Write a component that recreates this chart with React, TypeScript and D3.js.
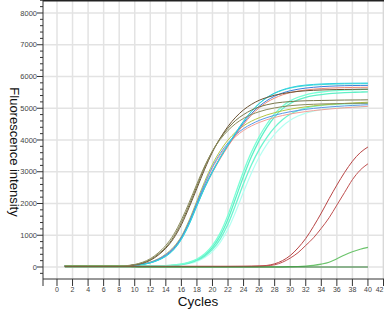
import React from "react";
import * as d3 from "d3";

const cycles = [1,2,3,4,5,6,7,8,9,10,11,12,13,14,15,16,17,18,19,20,21,22,23,24,25,26,27,28,29,30,31,32,33,34,35,36,37,38,39,40];

const yTickValues = [0,1000,2000,3000,4000,5000,6000,7000,8000];
const xTickValues = [0,2,4,6,8,10,12,14,16,18,20,22,24,26,28,30,32,34,36,38,40,42];

const olive1 = [30,30,30,30,32,33,35,37,40,70,130,230,400,620,950,1400,1950,2550,3150,3650,4050,4370,4620,4800,4940,5040,5110,5160,5190,5210,5225,5235,5240,5245,5250,5255,5258,5260,5262,5265];
const olive2 = [30,30,30,30,31,33,35,38,45,80,150,260,440,680,1020,1480,2030,2620,3180,3650,4020,4300,4520,4680,4800,4890,4960,5010,5050,5080,5100,5115,5125,5135,5140,5145,5150,5153,5156,5160];
const brown = [30,30,30,30,31,32,34,36,40,65,115,210,370,590,900,1330,1880,2480,3080,3620,4060,4430,4720,4950,5120,5250,5340,5410,5460,5500,5530,5550,5565,5575,5582,5588,5592,5595,5598,5600];

const cyan = [30,30,30,30,31,32,34,36,40,52,80,128,210,335,540,870,1340,1920,2490,2990,3440,3850,4230,4590,4900,5150,5340,5480,5580,5650,5700,5730,5750,5765,5775,5782,5786,5789,5791,5793];
const turquoise = [30,30,30,30,31,32,34,36,41,54,82,132,215,345,550,880,1360,1940,2510,3000,3450,3855,4235,4590,4895,5140,5330,5470,5565,5635,5680,5710,5730,5745,5755,5762,5767,5770,5773,5775];
const blue = [30,30,30,30,31,32,34,36,42,56,88,140,228,360,575,920,1400,1980,2540,3020,3450,3840,4200,4540,4830,5060,5240,5380,5480,5550,5600,5635,5660,5680,5693,5703,5710,5715,5718,5720];
const salmon = [30,30,30,30,31,32,34,36,42,55,86,137,224,355,565,905,1380,1950,2500,2980,3410,3800,4160,4490,4780,5010,5190,5320,5420,5490,5540,5575,5600,5620,5633,5643,5650,5655,5658,5660];

const yellowGreen = [30,30,30,30,31,32,34,36,43,59,94,153,255,408,630,965,1475,2085,2695,3235,3660,4000,4255,4450,4590,4700,4790,4860,4920,4970,5010,5045,5075,5100,5120,5137,5152,5165,5178,5190];
const salmonLow = [30,30,30,30,31,32,34,36,42,57,90,147,245,392,608,930,1420,2010,2600,3120,3530,3860,4110,4300,4440,4550,4640,4710,4770,4820,4860,4895,4925,4950,4975,4995,5015,5030,5045,5060];
const blueLow = [30,30,30,30,31,32,34,36,41,56,89,146,243,390,605,935,1430,2030,2630,3160,3580,3910,4165,4360,4500,4615,4705,4780,4840,4890,4930,4965,4995,5020,5040,5058,5073,5087,5099,5110];

const aqua1 = [30,30,30,30,30,31,31,32,33,34,35,36,38,44,58,86,138,228,380,620,980,1510,2180,2860,3470,3980,4400,4730,4980,5150,5266,5344,5396,5432,5458,5476,5490,5501,5510,5516];
const aqua2 = [30,30,30,30,30,31,31,32,33,34,35,37,40,46,62,94,151,251,418,682,1076,1642,2334,3016,3612,4102,4504,4828,5066,5232,5346,5424,5476,5512,5538,5556,5570,5581,5590,5596];
const aqua3 = [30,30,30,30,30,31,31,32,33,34,35,36,37,42,54,78,124,204,342,558,880,1352,1972,2628,3212,3698,4086,4398,4640,4812,4926,5004,5056,5090,5112,5127,5139,5147,5153,5158];
const aquaPale = [30,30,30,30,30,30,31,31,32,33,34,35,36,40,50,70,109,178,297,486,774,1194,1748,2368,2956,3456,3860,4182,4434,4620,4754,4848,4910,4954,4985,5007,5022,5034,5042,5048];

const greenLate = [45,45,45,45,45,45,45,44,30,12,5,4,4,4,4,4,4,4,4,4,4,4,4,4,4,4,4,5,7,10,16,30,52,90,150,260,380,480,560,620];
const red1 = [20,20,20,20,20,20,20,20,20,20,20,20,20,20,20,20,20,20,20,20,20,20,21,22,25,32,50,100,200,360,600,900,1280,1700,2150,2580,2980,3330,3600,3780];
const red2 = [20,20,20,20,20,20,20,20,20,20,20,20,20,20,20,20,20,20,20,20,20,20,21,22,24,28,38,70,150,280,450,680,920,1220,1550,1950,2350,2750,3050,3250];
const flatGreen = [0,0,0,0,0,0,0,0,0,0,0,0,0,0,0,0,0,0,0,0,0,0,0,0,0,0,0,0,0,0,0,0,0,0,0,0,0,0,0,0];

const series = [
  { name: "aquaPale", values: aquaPale, color: "#b4fff2", width: 1.2 },
  { name: "aqua3", values: aqua3, color: "#6cf5cf", width: 1.3 },
  { name: "aqua1", values: aqua1, color: "#5ff0c6", width: 1.3 },
  { name: "aqua2", values: aqua2, color: "#7affd6", width: 1.3 },
  { name: "yellowGreen", values: yellowGreen, color: "#b5c545", width: 1 },
  { name: "salmonLow", values: salmonLow, color: "#f4a098", width: 1 },
  { name: "blueLow", values: blueLow, color: "#5a9ae8", width: 1 },
  { name: "salmon", values: salmon, color: "#f08878", width: 1 },
  { name: "blue", values: blue, color: "#3c7fdc", width: 1 },
  { name: "turquoise", values: turquoise, color: "#40e0d0", width: 1 },
  { name: "cyan", values: cyan, color: "#2fcfe2", width: 1 },
  { name: "brown", values: brown, color: "#6a5232", width: 1 },
  { name: "olive1", values: olive1, color: "#77774a", width: 1 },
  { name: "olive2", values: olive2, color: "#8c8c5c", width: 1 },
  { name: "greenLate", values: greenLate, color: "#6cc46c", width: 1.2 },
  { name: "red1", values: red1, color: "#b84444", width: 1 },
  { name: "red2", values: red2, color: "#c05050", width: 1 },
  { name: "flatGreen", values: flatGreen, color: "#2e7d32", width: 1.2 },
];

const W = 384, H = 312;
const left = 43, right = 383.5, top = 0, bottom = 279;

export default function App() {
  const x = d3.scaleLinear().domain([-1.8, 42]).range([left, right]);
  const y = d3.scaleLinear().domain([-378, 8409]).range([bottom, top]);
  const line = d3.line<number>()
    .x((_, i) => x(cycles[i]))
    .y((d) => y(d))
    .curve(d3.curveMonotoneX);
  const yMinor = d3.range(-200, 8401, 200).filter((v) => v % 1000 !== 0);

  return (
    <svg width={W} height={H} style={{ position: "absolute", left: 0, top: 0, background: "#fff" }}>
      <rect x={0} y={0} width={W} height={H} fill="#fff" />
      {xTickValues.map((t) => (
        <line key={"gx" + t} x1={x(t)} x2={x(t)} y1={top} y2={bottom} stroke="#e3e3e3" strokeWidth={1.5} />
      ))}
      {yTickValues.map((t) => (
        <line key={"gy" + t} x1={left} x2={right} y1={y(t)} y2={y(t)} stroke="#e3e3e3" strokeWidth={1.5} />
      ))}
      <line x1={right} x2={right} y1={top} y2={bottom} stroke="#d8d8d8" strokeWidth={1.5} />
      <line x1={left} x2={W} y1={0.75} y2={0.75} stroke="#222" strokeWidth={1.5} />
      {series.map((s) => (
        <path key={s.name} d={line(s.values) || ""} fill="none" stroke={s.color} strokeWidth={s.width} />
      ))}
      <line x1={left} x2={left} y1={top} y2={286} stroke="#333" strokeWidth={1} />
      {yMinor.map((t) => (
        <line key={"ym" + t} x1={left - 3} x2={left} y1={y(t)} y2={y(t)} stroke="#333" strokeWidth={1} />
      ))}
      {yTickValues.map((t) => (
        <g key={"yt" + t}>
          <line x1={left - 6} x2={left} y1={y(t)} y2={y(t)} stroke="#333" strokeWidth={1} />
          <text x={left - 6} y={y(t)} dy="0.35em" textAnchor="end" fontFamily="Liberation Sans, Arial, sans-serif" fontSize={7.5} fill="#444">{t}</text>
        </g>
      ))}
      <line x1={left} x2={W} y1={bottom} y2={bottom} stroke="#333" strokeWidth={1} />
      {xTickValues.map((t) => (
        <g key={"xt" + t}>
          <line x1={x(t)} x2={x(t)} y1={bottom} y2={bottom + 7} stroke="#333" strokeWidth={1} />
          <text x={x(t)} y={290} dy="0.35em" textAnchor={t === 42 ? "end" : "middle"} fontFamily="Liberation Sans, Arial, sans-serif" fontSize={7} fill="#444">{t}</text>
        </g>
      ))}
      <text x={198} y={305.5} textAnchor="middle" fontFamily="Liberation Sans, Arial, sans-serif" fontSize={13.5} fill="#111">Cycles</text>
      <text transform="translate(9.5,152) rotate(90)" textAnchor="middle" fontFamily="Liberation Sans, Arial, sans-serif" fontSize={13} fill="#111">Fluorescence intensity</text>
    </svg>
  );
}
